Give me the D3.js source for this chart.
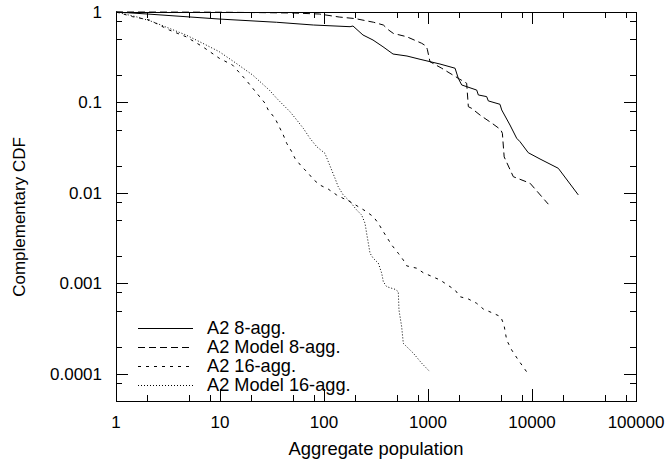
<!DOCTYPE html>
<html>
<head>
<meta charset="utf-8">
<script src="https://cdn.jsdelivr.net/npm/d3@7"></script>
<style>
  html, body { margin: 0; padding: 0; background: #fff; }
  svg { display: block; }
  text { font-family: "Liberation Sans", Arial, sans-serif; fill: #000; }
</style>
</head>
<body>
<svg id="chart" width="667" height="459"></svg>
<script>
// ---- Data ----
const seriesNames = ["A2 8-agg.", "A2 Model 8-agg.", "A2 16-agg.", "A2 Model 16-agg."];

const a2_8agg = [
  [1,1],[2,0.95],[10,0.835],[35,0.77],[79,0.718],[178,0.688],[190,0.70],[237,0.557],
  [296,0.49],[369,0.413],[461,0.343],[628,0.326],[838,0.30],[1304,0.266],[1820,0.239],
  [1955,0.185],[2109,0.156],[2940,0.137],[3048,0.121],[3666,0.116],[3800,0.104],
  [4921,0.0954],[5114,0.0826],[6140,0.0563],[7120,0.0402],[7670,0.0368],[9210,0.0278],
  [11940,0.0237],[17900,0.0187],[27870,0.0095]
];

const a2Model_8agg = [
  [1,1],[10,0.995],[50,0.975],[90,0.95],[140,0.88],[200,0.845],[300,0.77],[372,0.718],
  [420,0.63],[464,0.58],[624,0.533],[869,0.451],[960,0.42],[985,0.387],[1045,0.282],
  [1354,0.239],[1628,0.21],[2000,0.182],[2354,0.163],[2443,0.0898],[2630,0.086],
  [3162,0.0726],[4200,0.058],[5000,0.050],[5190,0.0456],[5400,0.025],[6610,0.0151],
  [9570,0.0128],[14350,0.0075]
];

const a2_16agg = [
  [1,1],[1.45,0.887],[2.09,0.816],[3.25,0.632],[4.71,0.533],[6.82,0.413],[9.84,0.308],
  [13.2,0.259],[17.8,0.177],[23.3,0.121],[27.1,0.098],[29.1,0.0825],[33.8,0.0668],
  [36.4,0.0563],[40.6,0.0437],[43.8,0.0353],[48.9,0.0286],[52.6,0.0241],[61.1,0.0195],
  [70.6,0.0165],[78.9,0.0141],[91.5,0.0122],[110,0.011],[132,0.0095],[159,0.0085],
  [178,0.008],[214,0.00704],[248,0.00635],[298,0.00546],[333,0.00461],[372,0.00372],
  [448,0.00265],[518,0.00215],[579,0.00181],[624,0.00156],[778,0.00147],[901,0.00131],
  [1304,0.00109],[1820,0.000844],[2032,0.000711],[2443,0.000671],[2940,0.000601],
  [3404,0.00052],[4248,0.000466],[5000,0.000428],[5380,0.000346],[5710,0.000236],
  [6380,0.000183],[7380,0.000142],[8890,0.000105]
];

const a2Model_16agg = [
  [1,1],[1.56,0.887],[2.25,0.781],[3.25,0.66],[4.71,0.557],[6.82,0.451],[9.84,0.364],
  [14.3,0.271],[20.6,0.201],[29.8,0.137],[35.1,0.111],[40.6,0.0937],[47.1,0.079],
  [54.7,0.064],[63.2,0.0518],[73.3,0.0401],[85.1,0.0324],[102,0.0274],[110,0.0221],
  [118.5,0.0179],[127.6,0.0145],[137,0.0117],[153,0.0095],[178,0.008],[206,0.00647],
  [230,0.0057],[248,0.00461],[257,0.00357],[267,0.00277],[277,0.00215],[298,0.00189],
  [333,0.00167],[359,0.00129],[372,0.00104],[401,0.000918],[482,0.000859],[518,0.000809],
  [526,0.000507],[558,0.000332],[579,0.000217],[722,0.000169],[869,0.000131],[1045,0.000105]
];

const xTickValues = [1, 10, 100, 1000, 10000, 100000];
const xTickLabels = ["1", "10", "100", "1000", "10000", "100000"];
const yTickValues = [1, 0.1, 0.01, 0.001, 0.0001];
const yTickLabels = ["1", "0.1", "0.01", "0.001", "0.0001"];
const minorMultipliers = [2, 5, 8];

const xTitle = "Aggregate population";
const yTitle = "Complementary CDF";

// ---- Layout ----
const L = 116, R = 636, T = 12, B = 401;
const svg = d3.select("#chart");

const x = d3.scaleLog().domain([1, 100000]).range([L, R]);
const y = d3.scaleLog().domain([5e-5, 1]).range([B, T]);

// minor tick values
const xMinor = [];
for (let e = 0; e < 5; e++) minorMultipliers.forEach(m => xMinor.push(m * Math.pow(10, e)));
const yMinor = [];
for (let e = -5; e < 0; e++) minorMultipliers.forEach(m => {
  const v = m * Math.pow(10, e);
  if (v >= 5e-5 && v < 1) yMinor.push(v);
});

const majorLen = 12, minorLen = 6;
const tickG = svg.append("g").attr("stroke", "#000").attr("stroke-width", 1);

// bottom & top ticks
[[xTickValues, majorLen], [xMinor, minorLen]].forEach(([vals, len]) => {
  vals.forEach(v => {
    const px = Math.round(x(v)) + 0.5;
    tickG.append("line").attr("x1", px).attr("x2", px).attr("y1", B).attr("y2", B - len);
    tickG.append("line").attr("x1", px).attr("x2", px).attr("y1", T).attr("y2", T + len);
  });
});
// left & right ticks
[[yTickValues, majorLen], [yMinor, minorLen]].forEach(([vals, len]) => {
  vals.forEach(v => {
    const py = Math.round(y(v)) + 0.5;
    tickG.append("line").attr("x1", L).attr("x2", L + len).attr("y1", py).attr("y2", py);
    tickG.append("line").attr("x1", R).attr("x2", R - len).attr("y1", py).attr("y2", py);
  });
});

// frame
svg.append("rect")
  .attr("x", L + 0.5).attr("y", T + 0.5)
  .attr("width", R - L).attr("height", B - T)
  .attr("fill", "none").attr("stroke", "#000").attr("stroke-width", 1);

// tick labels
const fs = 17;
xTickValues.forEach((v, i) => {
  svg.append("text").attr("x", x(v)).attr("y", 428)
    .attr("text-anchor", "middle").attr("font-size", fs).text(xTickLabels[i]);
});
yTickValues.forEach((v, i) => {
  svg.append("text").attr("x", 102).attr("y", y(v) + 6)
    .attr("text-anchor", "end").attr("font-size", fs).text(yTickLabels[i]);
});

// axis titles
svg.append("text").attr("x", (L + R) / 2).attr("y", 455)
  .attr("text-anchor", "middle").attr("font-size", 18.4).text(xTitle);
svg.append("text")
  .attr("transform", "translate(25,217) rotate(-90)")
  .attr("text-anchor", "middle").attr("font-size", 17).text(yTitle);

// series
const styles = [
  { data: a2_8agg, dash: null },
  { data: a2Model_8agg, dash: "7,4" },
  { data: a2_16agg, dash: "3,5" },
  { data: a2Model_16agg, dash: "1,2" }
];
const line = d3.line().x(d => x(d[0])).y(d => y(d[1]));
styles.forEach(s => {
  svg.append("path").datum(s.data)
    .attr("d", line)
    .attr("fill", "none")
    .attr("stroke", "#000")
    .attr("stroke-width", 1)
    .attr("stroke-dasharray", s.dash);
});

// legend
const legY = [328, 347, 366, 385];
styles.forEach((s, i) => {
  svg.append("line")
    .attr("x1", 138).attr("x2", 193)
    .attr("y1", legY[i] + 0.5).attr("y2", legY[i] + 0.5)
    .attr("stroke", "#000").attr("stroke-width", 1)
    .attr("stroke-dasharray", s.dash);
  svg.append("text").attr("x", 207).attr("y", legY[i] + 6)
    .attr("font-size", 18.2).text(seriesNames[i]);
});
</script>
</body>
</html>
